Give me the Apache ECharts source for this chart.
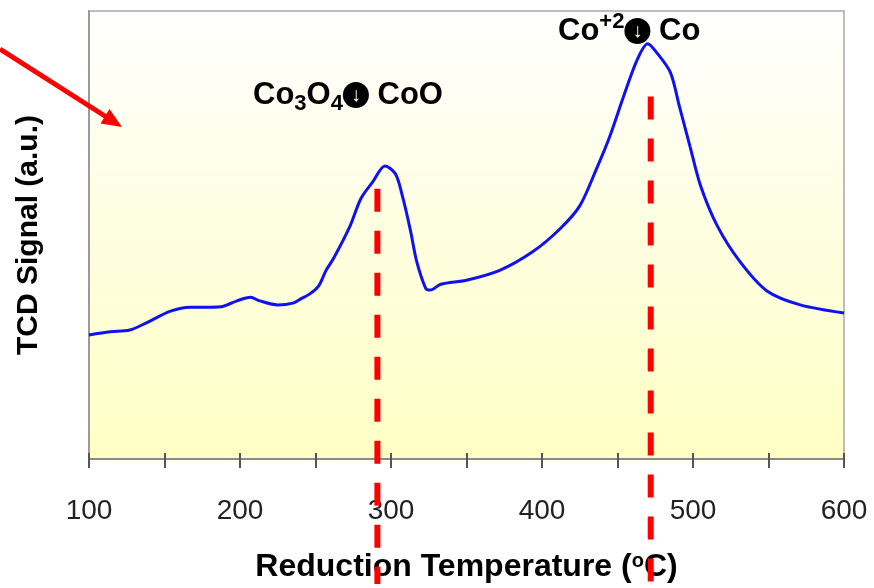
<!DOCTYPE html>
<html>
<head>
<meta charset="utf-8">
<title>TPR profile</title>
<script src="https://cdn.jsdelivr.net/npm/echarts@6/dist/echarts.min.js"></script>
<style>
  html, body { margin: 0; padding: 0; background: #ffffff; }
  #chart { width: 874px; height: 588px; }
</style>
</head>
<body>
<div id="chart"></div>
<script>
// H2-TPR trace: reduction temperature (°C) and TCD signal (arbitrary units, 0–100)
const temperature = [100, 114, 127, 138, 154, 167, 180, 189, 198, 207, 213, 225, 235, 240, 246, 252, 257, 262, 273, 280, 288, 296, 303, 308, 313, 317, 323, 326, 333, 350, 372, 394, 412, 425, 436, 445, 454, 463, 470, 476, 485, 491, 498, 505, 516, 531, 549, 571, 600];
const tcdSignal   = [27.7, 28.4, 28.8, 30.4, 33.0, 33.9, 33.9, 34.1, 35.3, 36.1, 35.3, 34.4, 34.8, 35.7, 36.8, 38.6, 42.1, 44.8, 52.1, 58.1, 61.9, 65.4, 63.6, 58.1, 50.8, 44.1, 38.1, 37.7, 39.0, 39.9, 42.1, 46.3, 51.4, 56.5, 64.7, 72.1, 80.9, 89.1, 92.7, 90.7, 86.3, 78.7, 69.8, 61.0, 52.1, 44.1, 37.5, 34.4, 32.6];

// Reduction steps: peak temperatures and the top of each marker line
const stepTemps = [291, 472];
const stepTops = [60.3, 80.9];
const stepBottom = -27.9;

// Axis ticks
const xMin = 100, xMax = 600, xTickStep = 50;
const xTickLabels = [100, 200, 300, 400, 500, 600];

const FONT = 'Arial, "Liberation Sans", sans-serif';

const curve = temperature.map((t, i) => [t, tcdSignal[i]]);
const markerSeries = stepTemps.map((t, i) => ({
  type: 'line',
  data: [[t, stepTops[i]], [t, stepBottom]],
  xAxisIndex: 0,
  symbol: 'none',
  clip: false,
  silent: true,
  z: 4,
  lineStyle: { color: '#ff0000', width: 6, type: [23, 19], cap: 'butt' }
}));

const arrowGlyph = {
  fontFamily: FONT, fontSize: 20, fontWeight: 'bold', fill: '#fff',
  backgroundColor: '#000', borderRadius: 13,
  width: 26, height: 26, lineHeight: 26, align: 'center'
};

const chart = echarts.init(document.getElementById('chart'));

const option = {
  animation: false,
  backgroundColor: '#ffffff',
  grid: {
    left: 89, right: 30, top: 11, bottom: 126,
    show: true,
    borderColor: '#bdbdbd',
    borderWidth: 2,
    backgroundColor: new echarts.graphic.LinearGradient(0, 0, 0, 1, [
      { offset: 0, color: '#ffffff' },
      { offset: 0.5, color: '#fefee0' },
      { offset: 1, color: '#ffffc4' }
    ])
  },
  xAxis: [
    {
      type: 'value', min: xMin, max: xMax, interval: xTickStep,
      position: 'bottom',
      name: 'Reduction Temperature ({sup|o}C)',
      nameLocation: 'middle',
      nameGap: 92,
      nameTextStyle: {
        fontFamily: FONT, fontSize: 32, fontWeight: 'bold', color: '#000',
        rich: {
          sup: { fontFamily: FONT, fontSize: 20, fontWeight: 'bold', color: '#000', verticalAlign: 'top', lineHeight: 20 }
        }
      },
      axisLine: { show: true, lineStyle: { color: '#8a8a8a', width: 2 } },
      axisTick: { show: true, length: 9, lineStyle: { color: '#555', width: 2 } },
      axisLabel: {
        margin: 38,
        fontFamily: FONT, fontSize: 28, color: '#222',
        formatter: v => (xTickLabels.indexOf(v) >= 0 ? String(v) : '')
      },
      splitLine: { show: false }
    },
    {
      type: 'value', min: xMin, max: xMax, interval: xTickStep,
      position: 'bottom',
      axisLine: { show: false },
      axisTick: { show: true, inside: true, length: 6, lineStyle: { color: '#555', width: 2 } },
      axisLabel: { show: false },
      splitLine: { show: false }
    }
  ],
  yAxis: {
    type: 'value', min: 0, max: 100,
    name: 'TCD Signal (a.u.)',
    nameLocation: 'middle',
    nameGap: 45,
    nameTextStyle: { fontFamily: FONT, fontSize: 30, fontWeight: 'bold', color: '#000' },
    axisLine: { show: true, lineStyle: { color: '#9a9a9a', width: 2 } },
    axisTick: { show: false },
    axisLabel: { show: false },
    splitLine: { show: false }
  },
  series: [
    {
      type: 'line',
      data: curve,
      xAxisIndex: 0,
      symbol: 'none',
      smooth: 0.3,
      z: 3,
      lineStyle: { color: '#1010f5', width: 3 }
    }
  ].concat(markerSeries),
  graphic: [
    // pointer arrow in the upper-left corner
    {
      type: 'line',
      shape: { x1: 0, y1: 49, x2: 108, y2: 118 },
      style: { stroke: '#ff0000', lineWidth: 5 },
      z: 10
    },
    {
      type: 'polygon',
      shape: { points: [[122, 127], [100.5, 123.5], [109.5, 109]] },
      style: { fill: '#ff0000' },
      z: 10
    },
    // reduction step annotations
    {
      type: 'text',
      x: 253, y: 95,
      style: {
        text: 'Co{sub|3}O{sub|4}{arrow|↓} CoO',
        fontFamily: FONT, fontSize: 31, fontWeight: 'bold', fill: '#000',
        align: 'left', verticalAlign: 'middle', lineHeight: 40,
        rich: {
          sub: { fontFamily: FONT, fontSize: 22, fontWeight: 'bold', fill: '#000', verticalAlign: 'bottom', lineHeight: 22 },
          arrow: arrowGlyph
        }
      },
      z: 10
    },
    {
      type: 'text',
      x: 558, y: 31,
      style: {
        text: 'Co{sup|+2}{arrow|↓} Co',
        fontFamily: FONT, fontSize: 31, fontWeight: 'bold', fill: '#000',
        align: 'left', verticalAlign: 'middle', lineHeight: 40,
        rich: {
          sup: { fontFamily: FONT, fontSize: 22, fontWeight: 'bold', fill: '#000', verticalAlign: 'top', lineHeight: 22 },
          arrow: arrowGlyph
        }
      },
      z: 10
    }
  ]
};

chart.setOption(option);
</script>
</body>
</html>
